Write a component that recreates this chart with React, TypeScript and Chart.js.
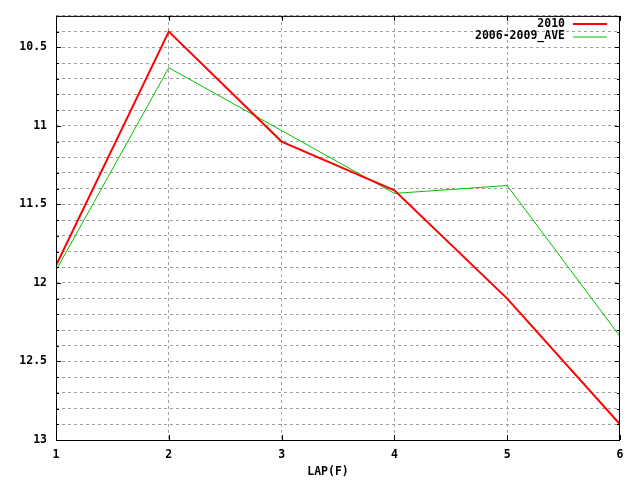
import { useEffect, useRef } from "react"
import { Chart, registerables } from "chart.js"

Chart.register(...registerables)

const laps = [1, 2, 3, 4, 5, 6]
const times2010 = [11.89, 10.4, 11.1, 11.41, 12.1, 12.9]
const timesAve = [11.92, 10.63, 11.03, 11.43, 11.38, 12.34]
const seriesNames = ["2010", "2006-2009_AVE"]
const xTitle = "LAP(F)"

const FONT = "bold 11.5px 'DejaVu Sans Mono', monospace"

const isMajor = (v: number) => Math.abs(v * 2 - Math.round(v * 2)) < 1e-6

const framePlugin = {
  id: "frame",
  afterDraw(chart: any) {
    const { ctx, chartArea: a, scales } = chart
    ctx.save()
    ctx.strokeStyle = "#000"
    ctx.lineWidth = 1
    ctx.setLineDash([])
    ctx.strokeRect(a.left + 0.5, a.top + 0.5, a.right - a.left - 1, a.bottom - a.top)

    // inward tick marks, gnuplot style
    ctx.beginPath()
    scales.y.ticks.forEach((t: any) => {
      const py = Math.round(scales.y.getPixelForValue(t.value)) + 0.5
      const len = isMajor(t.value) ? 5 : 3
      ctx.moveTo(a.left, py)
      ctx.lineTo(a.left + len, py)
      ctx.moveTo(a.right, py)
      ctx.lineTo(a.right - len, py)
    })
    scales.x.ticks.forEach((t: any) => {
      const px = Math.round(scales.x.getPixelForValue(t.value)) + 0.5
      ctx.moveTo(px, a.bottom)
      ctx.lineTo(px, a.bottom - 5)
      ctx.moveTo(px, a.top)
      ctx.lineTo(px, a.top + 5)
    })
    ctx.stroke()

    // legend
    ctx.font = FONT
    ctx.textAlign = "right"
    ctx.textBaseline = "middle"
    chart.data.datasets.forEach((ds: any, i: number) => {
      const y = 24 + i * 12.5
      ctx.fillStyle = "#000"
      ctx.fillText(ds.label, 565, y)
      ctx.strokeStyle = ds.borderColor
      ctx.lineWidth = ds.borderWidth
      ctx.beginPath()
      ctx.moveTo(573, Math.round(y))
      ctx.lineTo(607, Math.round(y))
      ctx.stroke()
    })

    // axis title
    ctx.fillStyle = "#000"
    ctx.textAlign = "center"
    ctx.fillText(xTitle, 328, 472)
    ctx.restore()
  },
}

export default function App() {
  const canvasRef = useRef<HTMLCanvasElement | null>(null)
  const chartInstance = useRef<Chart | null>(null)

  useEffect(() => {
    document.body.style.margin = "0"
    if (!canvasRef.current) return
    const ctx = canvasRef.current.getContext("2d")
    if (!ctx) return

    chartInstance.current = new Chart(ctx, {
      type: "line",
      data: {
        datasets: [
          {
            label: seriesNames[0],
            data: laps.map((x, i) => ({ x, y: times2010[i] })),
            borderColor: "#ff0000",
            borderWidth: 2,
            pointRadius: 0,
            tension: 0,
          },
          {
            label: seriesNames[1],
            data: laps.map((x, i) => ({ x, y: timesAve[i] })),
            borderColor: "#00c000",
            borderWidth: 1,
            pointRadius: 0,
            tension: 0,
          },
        ],
      },
      options: {
        animation: false,
        responsive: false,
        devicePixelRatio: 1,
        layout: { padding: { top: 13, right: 20, left: 0, bottom: 0 } },
        plugins: {
          legend: { display: false },
          tooltip: { enabled: false },
        },
        scales: {
          x: {
            type: "linear",
            min: 1,
            max: 6,
            afterFit: (s: any) => {
              s.height = 40
            },
            grid: {
              color: (c: any) => (c.tick && (c.tick.value === 1 || c.tick.value === 6) ? "rgba(0,0,0,0)" : "#a0a0a0"),
              lineWidth: 1,
              drawTicks: false,
            },
            border: { display: false, dash: [3, 3] },
            ticks: {
              stepSize: 1,
              color: "#000",
              font: { family: "'DejaVu Sans Mono', monospace", size: 11.5, weight: "bold" },
              padding: 8,
              maxRotation: 0,
            },
          },
          y: {
            type: "linear",
            reverse: true,
            min: 10.3,
            max: 13,
            afterFit: (s: any) => {
              s.width = 56
            },
            grid: {
              color: "#a0a0a0",
              lineWidth: 1,
              drawTicks: false,
            },
            border: { display: false, dash: [3, 3] },
            ticks: {
              stepSize: 0.1,
              autoSkip: false,
              color: "#000",
              font: { family: "'DejaVu Sans Mono', monospace", size: 11.5, weight: "bold" },
              padding: 9,
              callback: (v: any) => (isMajor(Number(v)) ? String(Math.round(Number(v) * 10) / 10) : ""),
            },
          },
        },
      },
      plugins: [framePlugin],
    })

    return () => {
      if (chartInstance.current) {
        chartInstance.current.destroy()
        chartInstance.current = null
      }
    }
  }, [])

  return (
    <div style={{ width: 640, height: 480, background: "#fff" }}>
      <canvas ref={canvasRef} width={640} height={480} />
    </div>
  )
}
